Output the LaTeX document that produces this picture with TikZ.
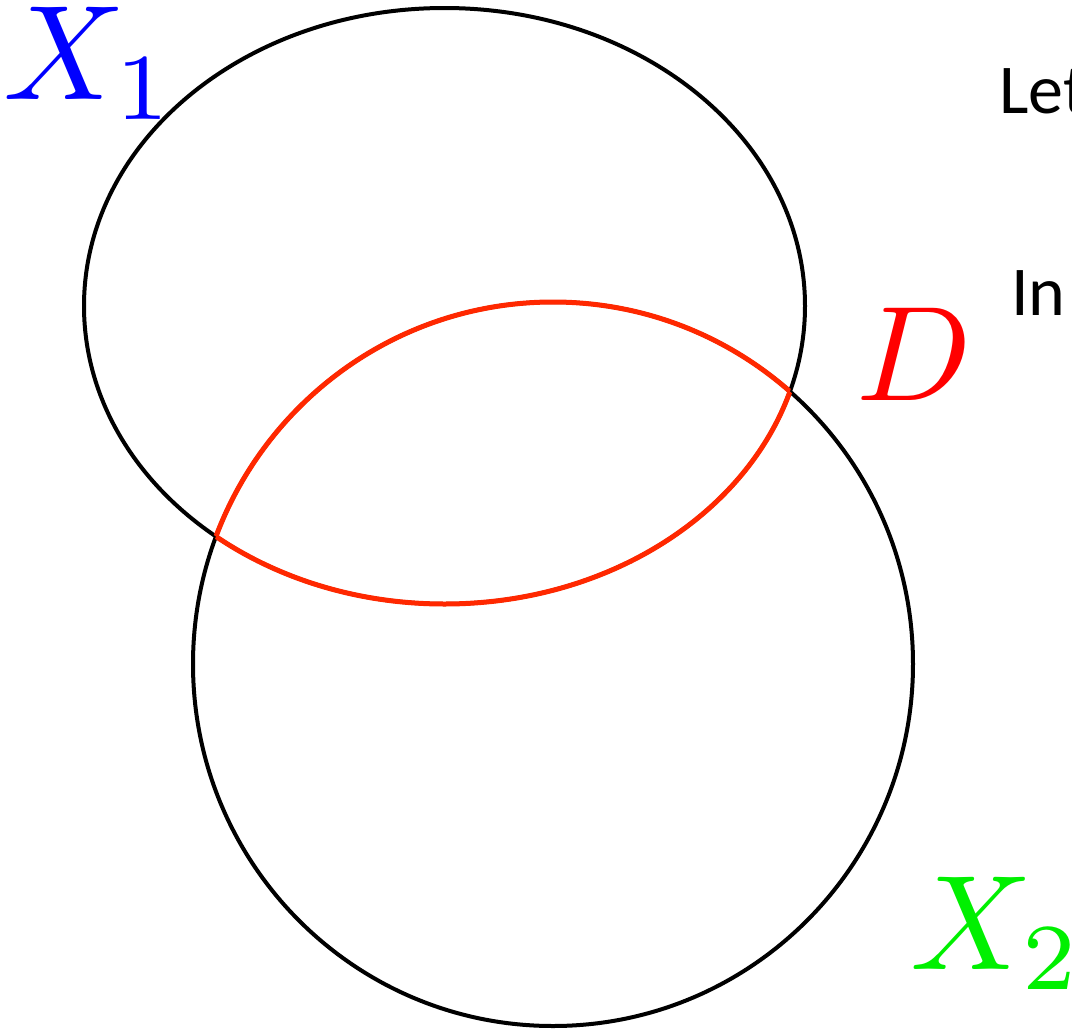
\documentclass[tikz,border=0pt]{standalone}
\usepackage{graphicx}
\usepackage{fontspec}
\newfontfamily\notefont{Carlito}
\definecolor{regred}{RGB}{255,40,0}
\definecolor{lblgreen}{RGB}{0,240,0}
\newcommand{\biglbl}[1]{\scalebox{13.5}{#1}}
\begin{document}
\begin{tikzpicture}[x=1pt,y=-1pt,
  setline/.style={line width=4pt,black},
  regline/.style={line width=5pt,regred},
  biglabel/.style={inner sep=0pt,anchor=base west},
  notetext/.style={inner sep=0pt,anchor=base west,font=\notefont\fontsize{70}{84}\selectfont}]
\clip (0,0) rectangle (1072,1029);
\useasboundingbox (0,0) rectangle (1072,1029);
\coordinate (c1) at (444.5,306);
\coordinate (c2) at (553,664);
% sets
\draw[setline] (c1) ellipse [x radius=360.5, y radius=298];
\draw[setline] (c2) ellipse [x radius=360, y radius=362];
% region D boundary
\begin{scope}
  \clip (c1) ellipse [x radius=360.5, y radius=298];
  \draw[regline] (c2) ellipse [x radius=360, y radius=362];
\end{scope}
\begin{scope}
  \clip (c2) ellipse [x radius=360, y radius=362];
  \draw[regline] (c1) ellipse [x radius=360.5, y radius=298];
\end{scope}
% labels
\node[biglabel,text=blue] (x1) at (3,99) {\biglbl{$X_1$}};
\node[biglabel,text=red] (d) at (856,400) {\biglbl{$D$}};
\node[biglabel,text=lblgreen] (x2) at (910,969) {\biglbl{$X_2$}};
\node[notetext] (let) at (999,113) {Let};
\node[notetext] (in) at (1011,315) {In};
\end{tikzpicture}
\end{document}
